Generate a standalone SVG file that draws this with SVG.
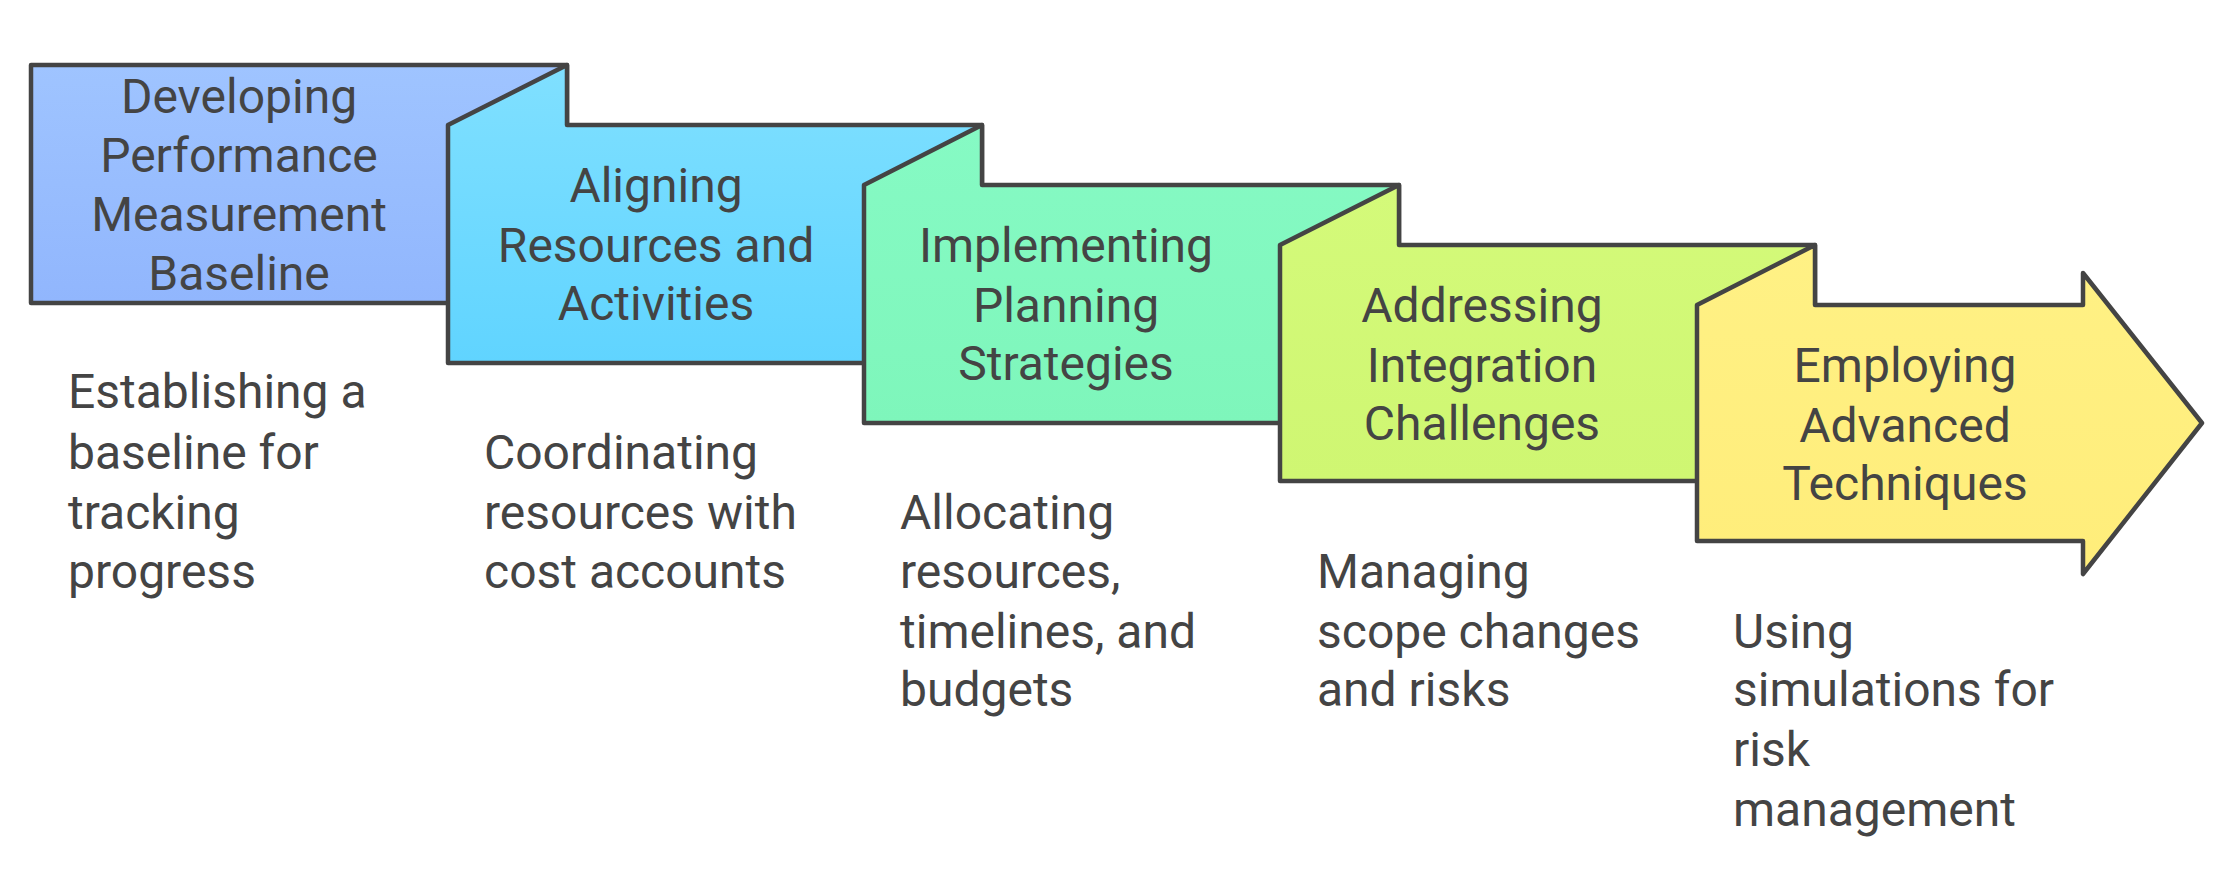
<svg xmlns="http://www.w3.org/2000/svg" width="2232" height="884" viewBox="0 0 2232 884">
<style>
.s{stroke:#444;stroke-width:4.5;stroke-linejoin:round}
text{font-family:Roboto,"Liberation Sans",sans-serif;font-size:48px;fill:#444}
.t{text-anchor:middle}
</style>
<defs>
<linearGradient id="g1" x1="0" y1="0" x2="0" y2="1"><stop offset="0" stop-color="#9fc4ff"/><stop offset="1" stop-color="#91b6fd"/></linearGradient>
<linearGradient id="g2" x1="0" y1="0" x2="0" y2="1"><stop offset="0" stop-color="#80e0ff"/><stop offset="1" stop-color="#60d4ff"/></linearGradient>
<linearGradient id="g3" x1="0" y1="0" x2="0" y2="1"><stop offset="0" stop-color="#86fac4"/><stop offset="1" stop-color="#7ef6bb"/></linearGradient>
<linearGradient id="g4" x1="0" y1="0" x2="0" y2="1"><stop offset="0" stop-color="#d4fa7a"/><stop offset="1" stop-color="#cff672"/></linearGradient>
<linearGradient id="g5" x1="0" y1="0" x2="0" y2="1"><stop offset="0" stop-color="#fff185"/><stop offset="1" stop-color="#ffed7a"/></linearGradient>
</defs>
<g id="n1">
<rect class="s" x="31" y="65" width="536" height="238" fill="url(#g1)"/>
<text class="t" x="239"><tspan x="239" y="113">Developing</tspan><tspan x="239" y="172">Performance</tspan><tspan x="239" y="231">Measurement</tspan><tspan x="239" y="290">Baseline</tspan></text>
<text x="68"><tspan x="68" y="408">Establishing a</tspan><tspan x="68" y="469">baseline for</tspan><tspan x="68" y="529">tracking</tspan><tspan x="68" y="588">progress</tspan></text>
</g>
<g id="n2">
<path class="s" d="M448,125 L567,65 L567,125 L982,125 L982,363 L448,363 Z" fill="url(#g2)"/>
<text class="t"><tspan x="656" y="202">Aligning</tspan><tspan x="656" y="262">Resources and</tspan><tspan x="656" y="320">Activities</tspan></text>
<text><tspan x="484" y="469">Coordinating</tspan><tspan x="484" y="529">resources with</tspan><tspan x="484" y="588">cost accounts</tspan></text>
</g>
<g id="n3">
<path class="s" d="M864,185 L982,125 L982,185 L1399,185 L1399,423 L864,423 Z" fill="url(#g3)"/>
<text class="t"><tspan x="1066" y="262">Implementing</tspan><tspan x="1066" y="322">Planning</tspan><tspan x="1066" y="380">Strategies</tspan></text>
<text><tspan x="900" y="529">Allocating</tspan><tspan x="900" y="588">resources,</tspan><tspan x="900" y="648">timelines, and</tspan><tspan x="900" y="706">budgets</tspan></text>
</g>
<g id="n4">
<path class="s" d="M1280,245 L1399,185 L1399,245 L1815,245 L1815,481 L1280,481 Z" fill="url(#g4)"/>
<text class="t"><tspan x="1482" y="322">Addressing</tspan><tspan x="1482" y="382">Integration</tspan><tspan x="1482" y="440">Challenges</tspan></text>
<text><tspan x="1317" y="588">Managing</tspan><tspan x="1317" y="648">scope changes</tspan><tspan x="1317" y="706">and risks</tspan></text>
</g>
<g id="n5">
<path class="s" d="M1697,305 L1815,245 L1815,305 L2083,305 L2083,273 L2202,423 L2083,574 L2083,541 L1697,541 Z" fill="url(#g5)"/>
<text class="t"><tspan x="1905" y="382">Employing</tspan><tspan x="1905" y="442">Advanced</tspan><tspan x="1905" y="500">Techniques</tspan></text>
<text><tspan x="1733" y="648">Using</tspan><tspan x="1733" y="706">simulations for</tspan><tspan x="1733" y="766">risk</tspan><tspan x="1733" y="826">management</tspan></text>
</g>
<g id="connectors"/>
</svg>
